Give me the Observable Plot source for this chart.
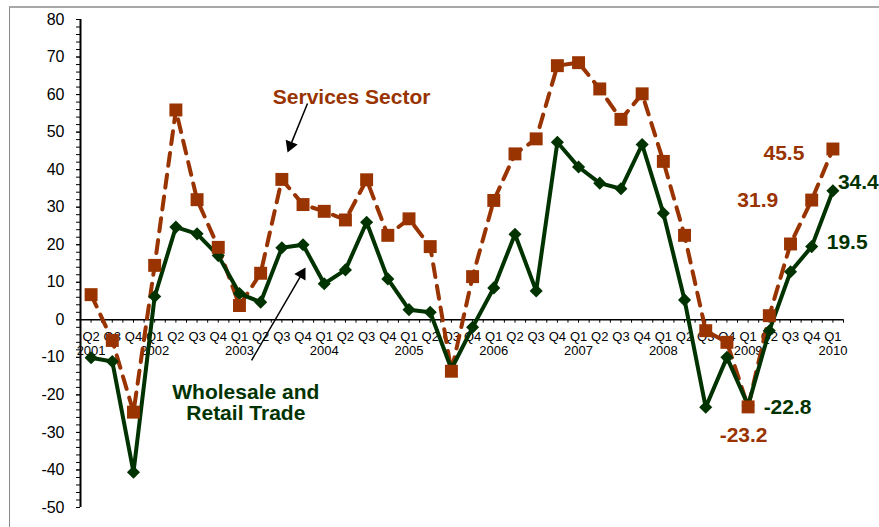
<!DOCTYPE html>
<html><head><meta charset="utf-8">
<script src="https://cdn.jsdelivr.net/npm/d3@7"></script>
<script src="https://cdn.jsdelivr.net/npm/@observablehq/plot@0.6"></script>
<style>
html,body{margin:0;padding:0;background:#fff;}
#wrap{position:relative;width:879px;height:527px;overflow:hidden;}
#border{position:absolute;left:9px;top:6px;width:900px;height:600px;border-left:1.5px solid #8a8a8a;border-top:2px solid #a8a8a8;pointer-events:none;}
svg{display:block;}
</style></head><body><div id="wrap"><div id="border"></div></div>
<script>
// Quarter labels, Q2 2001 .. Q1 2010
const quarterLabels = ["Q2","Q3","Q4","Q1","Q2","Q3","Q4","Q1","Q2","Q3","Q4","Q1","Q2","Q3","Q4","Q1","Q2","Q3","Q4","Q1","Q2","Q3","Q4","Q1","Q2","Q3","Q4","Q1","Q2","Q3","Q4","Q1","Q2","Q3","Q4","Q1"];
const yearLabels = ["2001","2002","2003","2004","2005","2006","2007","2008","2009","2010"];
const yearIndex = [0,3,7,11,15,19,23,27,31,35];
const yTickValues = [-50,-40,-30,-20,-10,0,10,20,30,40,50,60,70,80];

// Series values
const services = [6.7,-5.5,-24.6,14.5,55.9,32.0,19.3,3.8,12.4,37.4,30.7,28.9,26.6,37.3,22.5,26.9,19.5,-13.7,11.5,31.8,44.2,48.2,67.7,68.5,61.5,53.4,60.2,42.2,22.5,-2.9,-6.0,-23.2,1.1,20.2,31.9,45.5];
const wholesale = [-10.1,-11.1,-40.6,6.2,24.7,22.9,17.1,7.0,4.7,19.2,20.0,9.6,13.3,26.0,10.9,2.7,2.0,-13.1,-2.0,8.5,22.8,7.7,47.3,40.7,36.4,34.9,46.7,28.4,5.3,-23.3,-10.0,-22.8,-2.9,12.8,19.5,34.4];

// Value call-outs (index into series, label)
const serviceCalloutIndex = [35, 34, 31];
const serviceCalloutText = ["45.5", "31.9", "-23.2"];
const wholesaleCalloutIndex = [35, 34, 31];
const wholesaleCalloutText = ["34.4", "19.5", "-22.8"];

const ORANGE = "#993300", GREEN = "#003300";
const idx = (d,i) => i;
const halfSteps = d3.range(0, 73).map(i => i/2 - 0.5);
const minorTicks = d3.range(-50, 81, 2);

// placement (pixel offsets) for each call-out, in the same order as above
const serviceOffsets = [[-49, 4.5, "middle"], [-54, 0, "middle"], [-4.5, 28.6, "middle"]];
const wholesaleOffsets = [[5, -8, "start"], [15, -4, "start"], [15.5, 2, "start"]];

function callouts(series, indices, texts, offsets, color) {
  return indices.map((k, j) => Plot.text([k], {
    x: d => d, y: d => series[d], text: () => texts[j], fill: color,
    fontSize: 21, fontWeight: "bold",
    dx: offsets[j][0], dy: offsets[j][1], textAnchor: offsets[j][2]
  }));
}

const chart = Plot.plot({
  width: 879, height: 527,
  marginLeft: 80, marginRight: 36, marginTop: 19, marginBottom: 20,
  x: {type: "linear", domain: [-0.5, 35.5], axis: null},
  y: {domain: [-50, 80], axis: null},
  style: {fontFamily: "'Liberation Sans', Arial, sans-serif", background: "transparent", color: "#000"},
  marks: [
    // y axis
    Plot.axisY({ticks: minorTicks, tickSize: 4, tickFormat: () => "", label: null, stroke: "#000"}),
    Plot.axisY({ticks: yTickValues, tickSize: 4, tickPadding: 12, fontSize: 16, tickFormat: d => String(d), label: null, stroke: "#000", fill: "#000"}),
    Plot.ruleX([-0.5], {y1: -50, y2: 80, stroke: "#000", strokeWidth: 2}),
    // zero line and category ticks
    Plot.ruleY([0], {x1: -0.5, x2: 35.5, stroke: "#000", strokeWidth: 1.5}),
    Plot.ruleX(halfSteps, {x: d => d, y1: 0, y2: -0.9, stroke: "#000", strokeWidth: 1}),
    Plot.text(quarterLabels, {x: idx, y: 0, text: d => d, dy: 16.7, fontSize: 13, fill: "#000"}),
    Plot.text(yearLabels, {x: (d,i) => yearIndex[i], y: 0, text: d => d, dy: 30.7, fontSize: 13, fill: "#000"}),
    // series
    Plot.line(services, {x: idx, y: d => d, stroke: ORANGE, strokeWidth: 4, strokeDasharray: "13,9"}),
    Plot.line(wholesale, {x: idx, y: d => d, stroke: GREEN, strokeWidth: 4}),
    Plot.dot(wholesale, {x: idx, y: d => d, symbol: "diamond2", r: 5.9, fill: GREEN, stroke: "none"}),
    Plot.dot(services, {x: idx, y: d => d, symbol: "square", r: 7.3, fill: ORANGE, stroke: "none"}),
    // call-outs
    ...callouts(services, serviceCalloutIndex, serviceCalloutText, serviceOffsets, ORANGE),
    ...callouts(wholesale, wholesaleCalloutIndex, wholesaleCalloutText, wholesaleOffsets, GREEN),
    // series annotations
    Plot.text(["Services Sector"], {x: 12.29, y: 59.2, text: d => d, fill: ORANGE, fontSize: 21, fontWeight: "bold"}),
    Plot.text(["Wholesale and\nRetail Trade"], {x: 7.3, y: -22.0, text: d => d, fill: GREEN, fontSize: 21, fontWeight: "bold", lineHeight: 1.0}),
    Plot.link([[10.21, 57.6, 9.40, 46.4], [7.57, -10.8, 9.94, 12.2]], {x1: d => d[0], y1: d => d[1], x2: d => d[2], y2: d => d[3], stroke: "#000", strokeWidth: 1.5}),
    Plot.dot([[9.40, 46.4, 202], [9.94, 12.2, 30]], {x: d => d[0], y: d => d[1], rotate: d => d[2], symbol: "triangle", r: 4.8, fill: "#000", stroke: "none"})
  ]
});
document.getElementById("wrap").appendChild(chart);
</script>
</body></html>
